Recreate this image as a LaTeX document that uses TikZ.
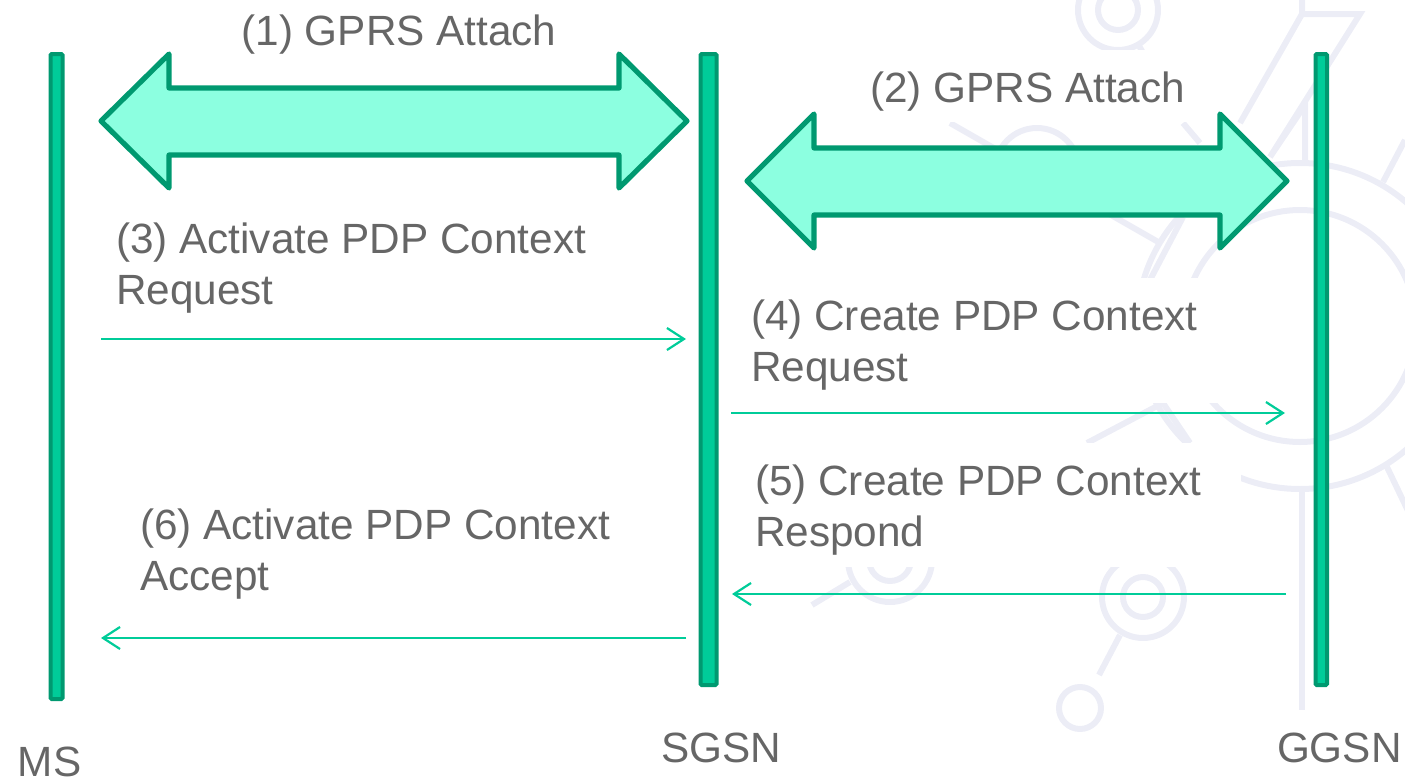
\documentclass[tikz,border=0pt]{standalone}
\usepackage{fontspec}
\setmainfont{Liberation Sans}
\usetikzlibrary{arrows.meta}
\definecolor{wm}{HTML}{ECEDF6}
\definecolor{darkg}{HTML}{009970}
\definecolor{midg}{HTML}{00CC99}
\definecolor{lightg}{HTML}{8CFFE0}
\definecolor{txt}{HTML}{666666}
\tikzset{
  x=0.5pt,y=-0.5pt,
  wmline/.style={draw=wm,line width=3pt},
  mask/.style={fill=white,draw=none},
  lifeline/.style={draw=darkg,fill=midg,line width=2pt,rounded corners=0.6pt},
  bigarrow/.style={draw=darkg,fill=lightg,line width=2.6pt,line join=round},
  msg/.style={draw=midg,line width=1.15pt,-{Straight Barb[length=8.5pt,width=11pt,line width=1.1pt]}},
  lbl/.style={text=txt,font=\fontsize{21.15pt}{25.5pt}\selectfont,inner sep=0pt,outer sep=0pt,align=left,anchor=base west},
}
\begin{document}
\begin{tikzpicture}
\useasboundingbox (0,0) rectangle (1405,782);
\begin{scope}
\clip (0,0) rectangle (1405,782);
% watermark
\draw[wmline] (1300,326) circle[radius=116];
\draw[wmline] (1300,326) circle[radius=163];
\draw[wmline] (1118,10) circle[radius=40];
\draw[wmline] (1118,10) circle[radius=20];
\draw[wmline] (1138,44) -- (1146,58);
\draw[wmline] (1302,0) -- (1302,14) -- (1360,14) -- (1270,157) -- (1305,105) -- (1305,160);
\draw[wmline] (1302,14) -- (1240,123);
\draw[wmline] (1037,170) circle[radius=42];
\draw[wmline] (950,123) -- (1160,243);
\draw[wmline] (1183,217) -- (1150,280);
\draw[wmline] (1183,123) -- (1200,143);
\draw[wmline] (1383,182) -- (1405,140);
\draw[wmline] (1302,488) -- (1302,710);
\draw[wmline] (1387,467) -- (1410,515);
\draw[wmline] (1087,443) -- (1163,403) -- (1190,443);
\draw[wmline] (1143,597) circle[radius=41];
\draw[wmline] (1143,597) circle[radius=20];
\draw[wmline] (1120,635) -- (1099,675);
\draw[wmline] (1080,708) circle[radius=21];
\draw[wmline] (890,560) circle[radius=42];
\draw[wmline] (890,560) circle[radius=21];
\draw[wmline] (850,582) -- (812,605);
\fill[mask] (860,50) rectangle (1190,122);
\fill[mask] (745,278) rectangle (1241,403);
\fill[mask] (745,443) rectangle (1241,567);
\end{scope}
% lifelines
\draw[lifeline] (50.5,54) rectangle (62.5,699);
\draw[lifeline] (700.5,54) rectangle (716.5,685);
\draw[lifeline] (1315.5,54) rectangle (1327,685);
% double arrows
\draw[bigarrow] (101,121) -- (169,54) -- (169,88) -- (619,88) -- (619,54) -- (687,121) -- (619,188) -- (619,155) -- (169,155) -- (169,188) -- cycle;
\draw[bigarrow] (747,181) -- (814,114) -- (814,148) -- (1220,148) -- (1220,114) -- (1287,181) -- (1220,248) -- (1220,215) -- (814,215) -- (814,248) -- cycle;
% message endpoints
\coordinate (m3a) at (101,339); \coordinate (m3b) at (686,339);
\coordinate (m4a) at (731,413); \coordinate (m4b) at (1285,413);
\coordinate (m5a) at (1286,594); \coordinate (m5b) at (732,594);
\coordinate (m6a) at (686,638); \coordinate (m6b) at (101,638);
\draw[msg] (m3a) -- (m3b);
\draw[msg] (m4a) -- (m4b);
\draw[msg] (m5a) -- (m5b);
\draw[msg] (m6a) -- (m6b);
% labels (a two-line node's base is its last line)
\node[lbl] (t1) at (241.5,45) {(1) GPRS Attach};
\node[lbl] (t2) at (870,102) {(2) GPRS Attach};
\node[lbl] (t3) at (116,304) {(3) Activate PDP Context\\Request};
\node[lbl] (t4) at (751,381) {(4) Create PDP Context\\Request};
\node[lbl] (t5) at (755,546) {(5) Create PDP Context\\Respond};
\node[lbl] (t6) at (140,590) {(6) Activate PDP Context\\Accept};
\node[lbl] (ms) at (18,776) {MS};
\node[lbl] (sgsn) at (661,762) {SGSN};
\node[lbl] (ggsn) at (1277,762) {GGSN};
\end{tikzpicture}
\end{document}
